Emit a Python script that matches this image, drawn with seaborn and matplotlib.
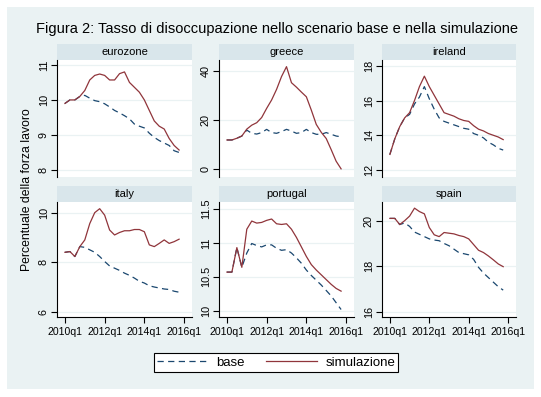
import pandas as pd
import numpy as np
import seaborn as sns
import matplotlib.pyplot as plt
from matplotlib.patches import Rectangle
from matplotlib.lines import Line2D

plt.rcParams['font.family'] = ['Liberation Sans', 'DejaVu Sans']

# quarterly data 2010q1 .. 2015q4
quarters = np.arange(24)
tick_pos = [0, 8, 16, 24]
tick_labels = ['2010q1', '2012q1', '2014q1', '2016q1']

eurozone_base = [9.9, 10.0, 10.0, 10.1, 10.13, 10.05, 9.98, 9.95, 9.89, 9.8, 9.7, 9.63,
                 9.55, 9.46, 9.31, 9.25, 9.2, 9.05, 8.93, 8.84, 8.77, 8.7, 8.55, 8.5]
eurozone_sim = [9.9, 10.0, 10.0, 10.1, 10.27, 10.57, 10.7, 10.74, 10.7, 10.57, 10.57, 10.75,
                10.8, 10.5, 10.36, 10.22, 10.0, 9.7, 9.4, 9.25, 9.17, 8.9, 8.7, 8.57]

greece_base = [11.9, 11.9, 12.6, 13.5, 15.9, 14.6, 14.3, 14.9, 16.2, 14.9, 14.6, 15.3,
               16.2, 15.5, 14.6, 14.9, 16.2, 14.9, 14.2, 14.2, 14.9, 14.2, 13.5, 13.2]
greece_sim = [11.9, 11.9, 12.6, 13.5, 16.3, 17.9, 18.9, 21.0, 24.7, 28.1, 32.4, 37.6,
              41.6, 35.1, 33.3, 31.3, 29.4, 24.0, 18.2, 15.0, 12.5, 8.0, 3.3, 0.2]

ireland_base = [12.9, 13.8, 14.5, 15.0, 15.2, 15.8, 16.2, 16.8, 16.1, 15.5, 15.0, 14.8,
                14.7, 14.6, 14.5, 14.4, 14.35, 14.1, 14.0, 13.85, 13.6, 13.45, 13.25, 13.15]
ireland_sim = [12.9, 13.8, 14.5, 15.0, 15.3, 16.0, 16.8, 17.4, 16.8, 16.3, 15.8, 15.3,
               15.2, 15.1, 14.95, 14.85, 14.8, 14.55, 14.35, 14.25, 14.1, 14.0, 13.9, 13.75]

italy_base = [8.4, 8.43, 8.23, 8.63, 8.6, 8.5, 8.4, 8.23, 8.03, 7.85, 7.76, 7.67,
              7.56, 7.47, 7.36, 7.23, 7.16, 7.05, 7.0, 6.96, 6.92, 6.9, 6.83, 6.79]
italy_sim = [8.4, 8.43, 8.23, 8.63, 8.9, 9.56, 10.0, 10.16, 9.9, 9.3, 9.1, 9.2,
             9.27, 9.27, 9.32, 9.32, 9.23, 8.7, 8.63, 8.76, 8.9, 8.76, 8.83, 8.93]

portugal_base = [10.57, 10.57, 10.93, 10.64, 10.85, 10.99, 10.96, 10.94, 10.97, 10.97, 10.92, 10.89,
                 10.9, 10.85, 10.78, 10.7, 10.6, 10.52, 10.45, 10.38, 10.3, 10.22, 10.12, 10.02]
portugal_sim = [10.57, 10.57, 10.93, 10.64, 11.2, 11.32, 11.29, 11.3, 11.33, 11.35, 11.28, 11.27,
                11.28, 11.2, 11.08, 10.94, 10.8, 10.68, 10.6, 10.53, 10.46, 10.39, 10.33, 10.29]

spain_base = [20.1, 20.1, 19.83, 19.9, 19.75, 19.5, 19.4, 19.3, 19.2, 19.15, 19.12, 19.0,
              18.9, 18.75, 18.6, 18.55, 18.5, 18.3, 17.95, 17.7, 17.5, 17.3, 17.1, 16.95]
spain_sim = [20.1, 20.1, 19.83, 20.0, 20.2, 20.55, 20.4, 20.3, 19.7, 19.38, 19.3, 19.48,
             19.45, 19.42, 19.35, 19.3, 19.2, 18.95, 18.7, 18.6, 18.45, 18.28, 18.1, 17.98]

countries = ['eurozone', 'greece', 'ireland', 'italy', 'portugal', 'spain']
base = [eurozone_base, greece_base, ireland_base, italy_base, portugal_base, spain_base]
sim = [eurozone_sim, greece_sim, ireland_sim, italy_sim, portugal_sim, spain_sim]
yticks = [[8, 9, 10, 11], [0, 20, 40], [12, 14, 16, 18],
          [6, 8, 10], [10, 10.5, 11, 11.5], [16, 18, 20]]
ytick_labels = [['8', '9', '10', '11'], ['0', '20', '40'], ['12', '14', '16', '18'],
                ['6', '8', '10'], ['10', '10.5', '11', '11.5'], ['16', '18', '20']]
ylims = [(7.8, 11.14), (-3.1, 44.3), (11.6, 18.33),
         (5.79, 10.43), (9.91, 11.6), (15.77, 20.82)]

rows = []
for c, b, s in zip(countries, base, sim):
    for q, vb, vs in zip(quarters, b, s):
        rows.append((c, q, 'base', vb))
        rows.append((c, q, 'simulazione', vs))
df = pd.DataFrame(rows, columns=['country', 'quarter', 'scenario', 'value'])

navy = '#1a476f'
maroon = '#90353b'
bg = '#eaf2f3'
strip_col = '#d9e6eb'

W, H = 541, 397
fig = plt.figure(figsize=(W / 100, H / 100), dpi=100)
fig.patch.set_facecolor('white')
fig.add_artist(Rectangle((7 / W, 1 - 389 / H), 527 / W, 382 / H, transform=fig.transFigure,
                         facecolor=bg, edgecolor='none', zorder=-10))

cols_px = [(57, 192), (219, 354), (382, 516)]
rows_px = [(60, 177), (202, 317)]
strip_px = 16

for i, c in enumerate(countries):
    r, k = divmod(i, 3)
    x0, x1 = cols_px[k]
    y0, y1 = rows_px[r]
    ax = fig.add_axes([x0 / W, 1 - y1 / H, (x1 - x0) / W, (y1 - y0) / H])
    ax.set_facecolor('white')
    sns.lineplot(data=df[df.country == c], x='quarter', y='value', hue='scenario',
                 style='scenario', hue_order=['base', 'simulazione'],
                 palette={'base': navy, 'simulazione': maroon},
                 dashes={'base': (5, 3.5), 'simulazione': ''},
                 linewidth=0.9, legend=False, ax=ax)
    ax.set_xlim(-1.6, 25.6)
    ax.set_ylim(*ylims[i])
    ax.set_yticks(yticks[i])
    ax.set_yticklabels(ytick_labels[i], rotation=90, va='center')
    ax.grid(axis='y', color=bg, linewidth=0.9)
    ax.set_axisbelow(True)
    ax.set_xlabel('')
    ax.set_ylabel('')
    for s in ['top', 'right']:
        ax.spines[s].set_visible(False)
    ax.spines['left'].set_linewidth(0.8)
    ax.tick_params(axis='y', length=4, width=0.8, labelsize=7.8, pad=2)
    if r == 1:
        ax.set_xticks(tick_pos)
        ax.set_xticklabels(tick_labels)
        ax.spines['bottom'].set_linewidth(0.8)
        ax.tick_params(axis='x', length=4, width=0.8, labelsize=7.6, pad=3)
    else:
        ax.set_xticks([])
        ax.spines['bottom'].set_visible(False)
    sh = strip_px / (y1 - y0)
    ax.add_patch(Rectangle((0, 1), 1, sh, transform=ax.transAxes, clip_on=False,
                           facecolor=strip_col, edgecolor='none'))
    ax.text(0.5, 1 + sh / 2, c, transform=ax.transAxes, ha='center', va='center',
            fontsize=8)

fig.text(277 / W, 1 - 29 / H,
         'Figura 2: Tasso di disoccupazione nello scenario base e nella simulazione',
         ha='center', va='center', fontsize=10.5)
fig.text(27 / W, 1 - 190 / H, 'Percentuale della forza lavoro', rotation=90,
         ha='center', va='center', fontsize=8.8)

handles = [Line2D([], [], color=navy, lw=0.9, dashes=(5, 3.5)),
           Line2D([], [], color=maroon, lw=0.9)]
leg = fig.legend(handles, ['base', 'simulazione'], loc='center',
                 bbox_to_anchor=(276 / W, 1 - 362.5 / H), ncol=2, frameon=True,
                 fancybox=False, edgecolor='black', framealpha=1, fontsize=9.5,
                 handlelength=3.9, columnspacing=1.6, borderpad=0.25, handletextpad=0.6,
                 borderaxespad=0)
leg.get_frame().set_linewidth(0.8)

plt.savefig('out.png', dpi=100)
